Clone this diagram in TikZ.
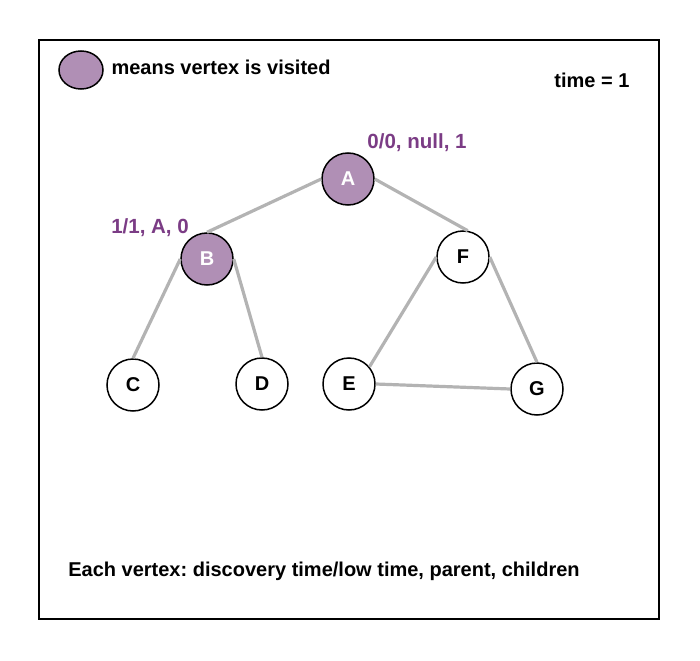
\documentclass[tikz,border=0pt]{standalone}
\usepackage{fontspec}
\setmainfont{Liberation Sans}
\usetikzlibrary{positioning, shapes.geometric}
\definecolor{visitfill}{HTML}{B08FB5}
\definecolor{labelpurple}{HTML}{7B3C85}
\definecolor{edgegray}{HTML}{B3B3B3}
\frenchspacing

\begin{document}
\begin{tikzpicture}[
    x=1pt, y=-1pt,
    vertex/.style={circle, draw=black, line width=1.5pt, fill=white, minimum size=52pt, inner sep=0pt, font=\fontsize{20}{24}\selectfont\bfseries},
    visited/.style={vertex, fill=visitfill, text=white},
    info/.style={font=\fontsize{20.5}{24}\selectfont\bfseries, text=labelpurple},
    plain/.style={font=\fontsize{20}{24}\selectfont\bfseries},
    edge/.style={draw=edgegray, line width=3.2pt}
  ]
  \useasboundingbox (0,0) rectangle (700,660);
  \draw[line width=1.5pt] (39,40) rectangle (659,619);

  % legend
  \node[ellipse, draw=black, line width=1.5pt, fill=visitfill, minimum width=44pt, minimum height=38pt, inner sep=0pt] (key) at (81,70) {};
  \node[plain, anchor=west] (keytext) at (108,67) {means vertex is visited};
  \node[plain] (time) at (592,80) {time = 1};

  % vertices
  \node[visited] (A) at (348,179) {A};
  \node[visited] (B) at (207,259) {B};
  \node[vertex] (F) at (463,257) {F};
  \node[vertex] (C) at (133,385) {C};
  \node[vertex] (D) at (262,384) {D};
  \node[vertex] (E) at (349,384) {E};
  \node[vertex] (G) at (537,389) {G};

  % discovery info
  \node[info] (infoA) at (417,143) {0/0, null, 1};
  \node[info] (infoB) at (150,228) {1/1, A, 0};

  % edges
  \draw[edge] (A.west) -- (B.north);
  \draw[edge] (A.east) -- (F.80);
  \draw[edge] (B.west) -- (C.north);
  \draw[edge] (B.east) -- (D.north);
  \draw[edge] (F.west) -- (E.40);
  \draw[edge] (F.east) -- (G.north);
  \draw[edge] (E.east) -- (G.west);

  \node[plain] (note) at (324,571) {Each vertex: discovery time/low time, parent, children};
\end{tikzpicture}
\end{document}
